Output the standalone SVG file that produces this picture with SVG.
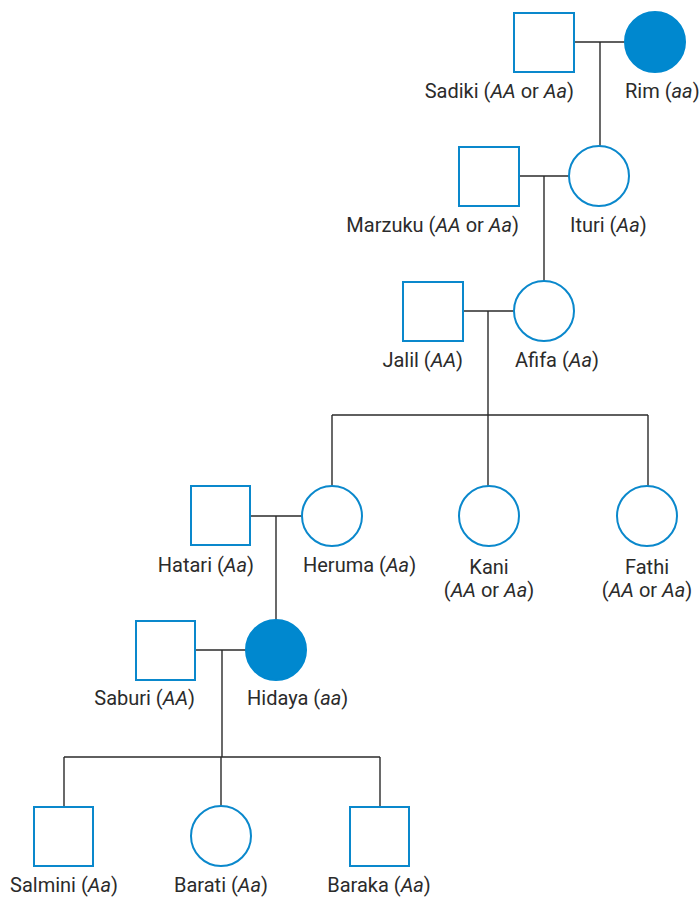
<svg xmlns="http://www.w3.org/2000/svg" width="700" height="899" viewBox="0 0 700 899">
  <style>
    .m { fill: #ffffff; stroke: #0a88cc; stroke-width: 2; }
    .aff { fill: #0088cf; stroke: #0088cf; stroke-width: 2; }
    .ln { fill: none; stroke: #2b2b2b; stroke-width: 1.4; }
    text { font-family: Roboto, "Liberation Sans", sans-serif; font-size: 20px; fill: #2b2b2b; }
    .r { text-anchor: end; }
    .c { text-anchor: middle; }
    tspan.i { font-style: italic; }
  </style>
  <rect width="700" height="899" fill="#ffffff"/>

  <!-- connectors: couple lines, descent lines, sibships -->
  <g id="connectors" class="ln">
    <path d="M574 42H625M600 42V146"/>
    <path d="M519 176H569M544 176V281"/>
    <path d="M463 311H514M488 311V415M332 415H648M332 415V486M488 415V486M648 415V486"/>
    <path d="M250 516H302M276 516V620"/>
    <path d="M195 650H246M222 650V757M64 757H380M64 757V807M221 757V806M380 757V807"/>
  </g>

  <g id="sadiki">
    <rect class="m" x="514" y="13" width="60" height="59"/>
    <text class="r" x="574" y="98">Sadiki (<tspan class="i">AA</tspan> or <tspan class="i">Aa</tspan>)</text>
  </g>
  <g id="rim">
    <circle class="aff" cx="655" cy="42" r="30"/>
    <text x="625" y="98">Rim (<tspan class="i">aa</tspan>)</text>
  </g>

  <g id="marzuku">
    <rect class="m" x="459" y="147" width="60" height="59"/>
    <text class="r" x="519" y="232">Marzuku (<tspan class="i">AA</tspan> or <tspan class="i">Aa</tspan>)</text>
  </g>
  <g id="ituri">
    <circle class="m" cx="599" cy="176" r="30"/>
    <text x="570" y="232">Ituri (<tspan class="i">Aa</tspan>)</text>
  </g>

  <g id="jalil">
    <rect class="m" x="403" y="282" width="60" height="59"/>
    <text class="r" x="463" y="367">Jalil (<tspan class="i">AA</tspan>)</text>
  </g>
  <g id="afifa">
    <circle class="m" cx="544" cy="311" r="30"/>
    <text x="515" y="367">Afifa (<tspan class="i">Aa</tspan>)</text>
  </g>

  <g id="hatari">
    <rect class="m" x="191" y="486" width="59" height="59"/>
    <text class="r" x="254" y="572">Hatari (<tspan class="i">Aa</tspan>)</text>
  </g>
  <g id="heruma">
    <circle class="m" cx="332" cy="516" r="30"/>
    <text x="303" y="572">Heruma (<tspan class="i">Aa</tspan>)</text>
  </g>
  <g id="kani">
    <circle class="m" cx="489" cy="516" r="30"/>
    <text class="c" x="489" y="574">Kani</text>
    <text class="c" x="489" y="597">(<tspan class="i">AA</tspan> or <tspan class="i">Aa</tspan>)</text>
  </g>
  <g id="fathi">
    <circle class="m" cx="647" cy="516" r="30"/>
    <text class="c" x="647" y="574">Fathi</text>
    <text class="c" x="647" y="597">(<tspan class="i">AA</tspan> or <tspan class="i">Aa</tspan>)</text>
  </g>

  <g id="saburi">
    <rect class="m" x="136" y="621" width="59" height="59"/>
    <text class="r" x="195" y="705">Saburi (<tspan class="i">AA</tspan>)</text>
  </g>
  <g id="hidaya">
    <circle class="aff" cx="276" cy="650" r="30"/>
    <text x="247" y="705">Hidaya (<tspan class="i">aa</tspan>)</text>
  </g>

  <g id="salmini">
    <rect class="m" x="34" y="807" width="59" height="59"/>
    <text class="c" x="64" y="892">Salmini (<tspan class="i">Aa</tspan>)</text>
  </g>
  <g id="barati">
    <circle class="m" cx="221" cy="836" r="30"/>
    <text class="c" x="221" y="892">Barati (<tspan class="i">Aa</tspan>)</text>
  </g>
  <g id="baraka">
    <rect class="m" x="350" y="807" width="59" height="59"/>
    <text class="c" x="379" y="892">Baraka (<tspan class="i">Aa</tspan>)</text>
  </g>
</svg>
